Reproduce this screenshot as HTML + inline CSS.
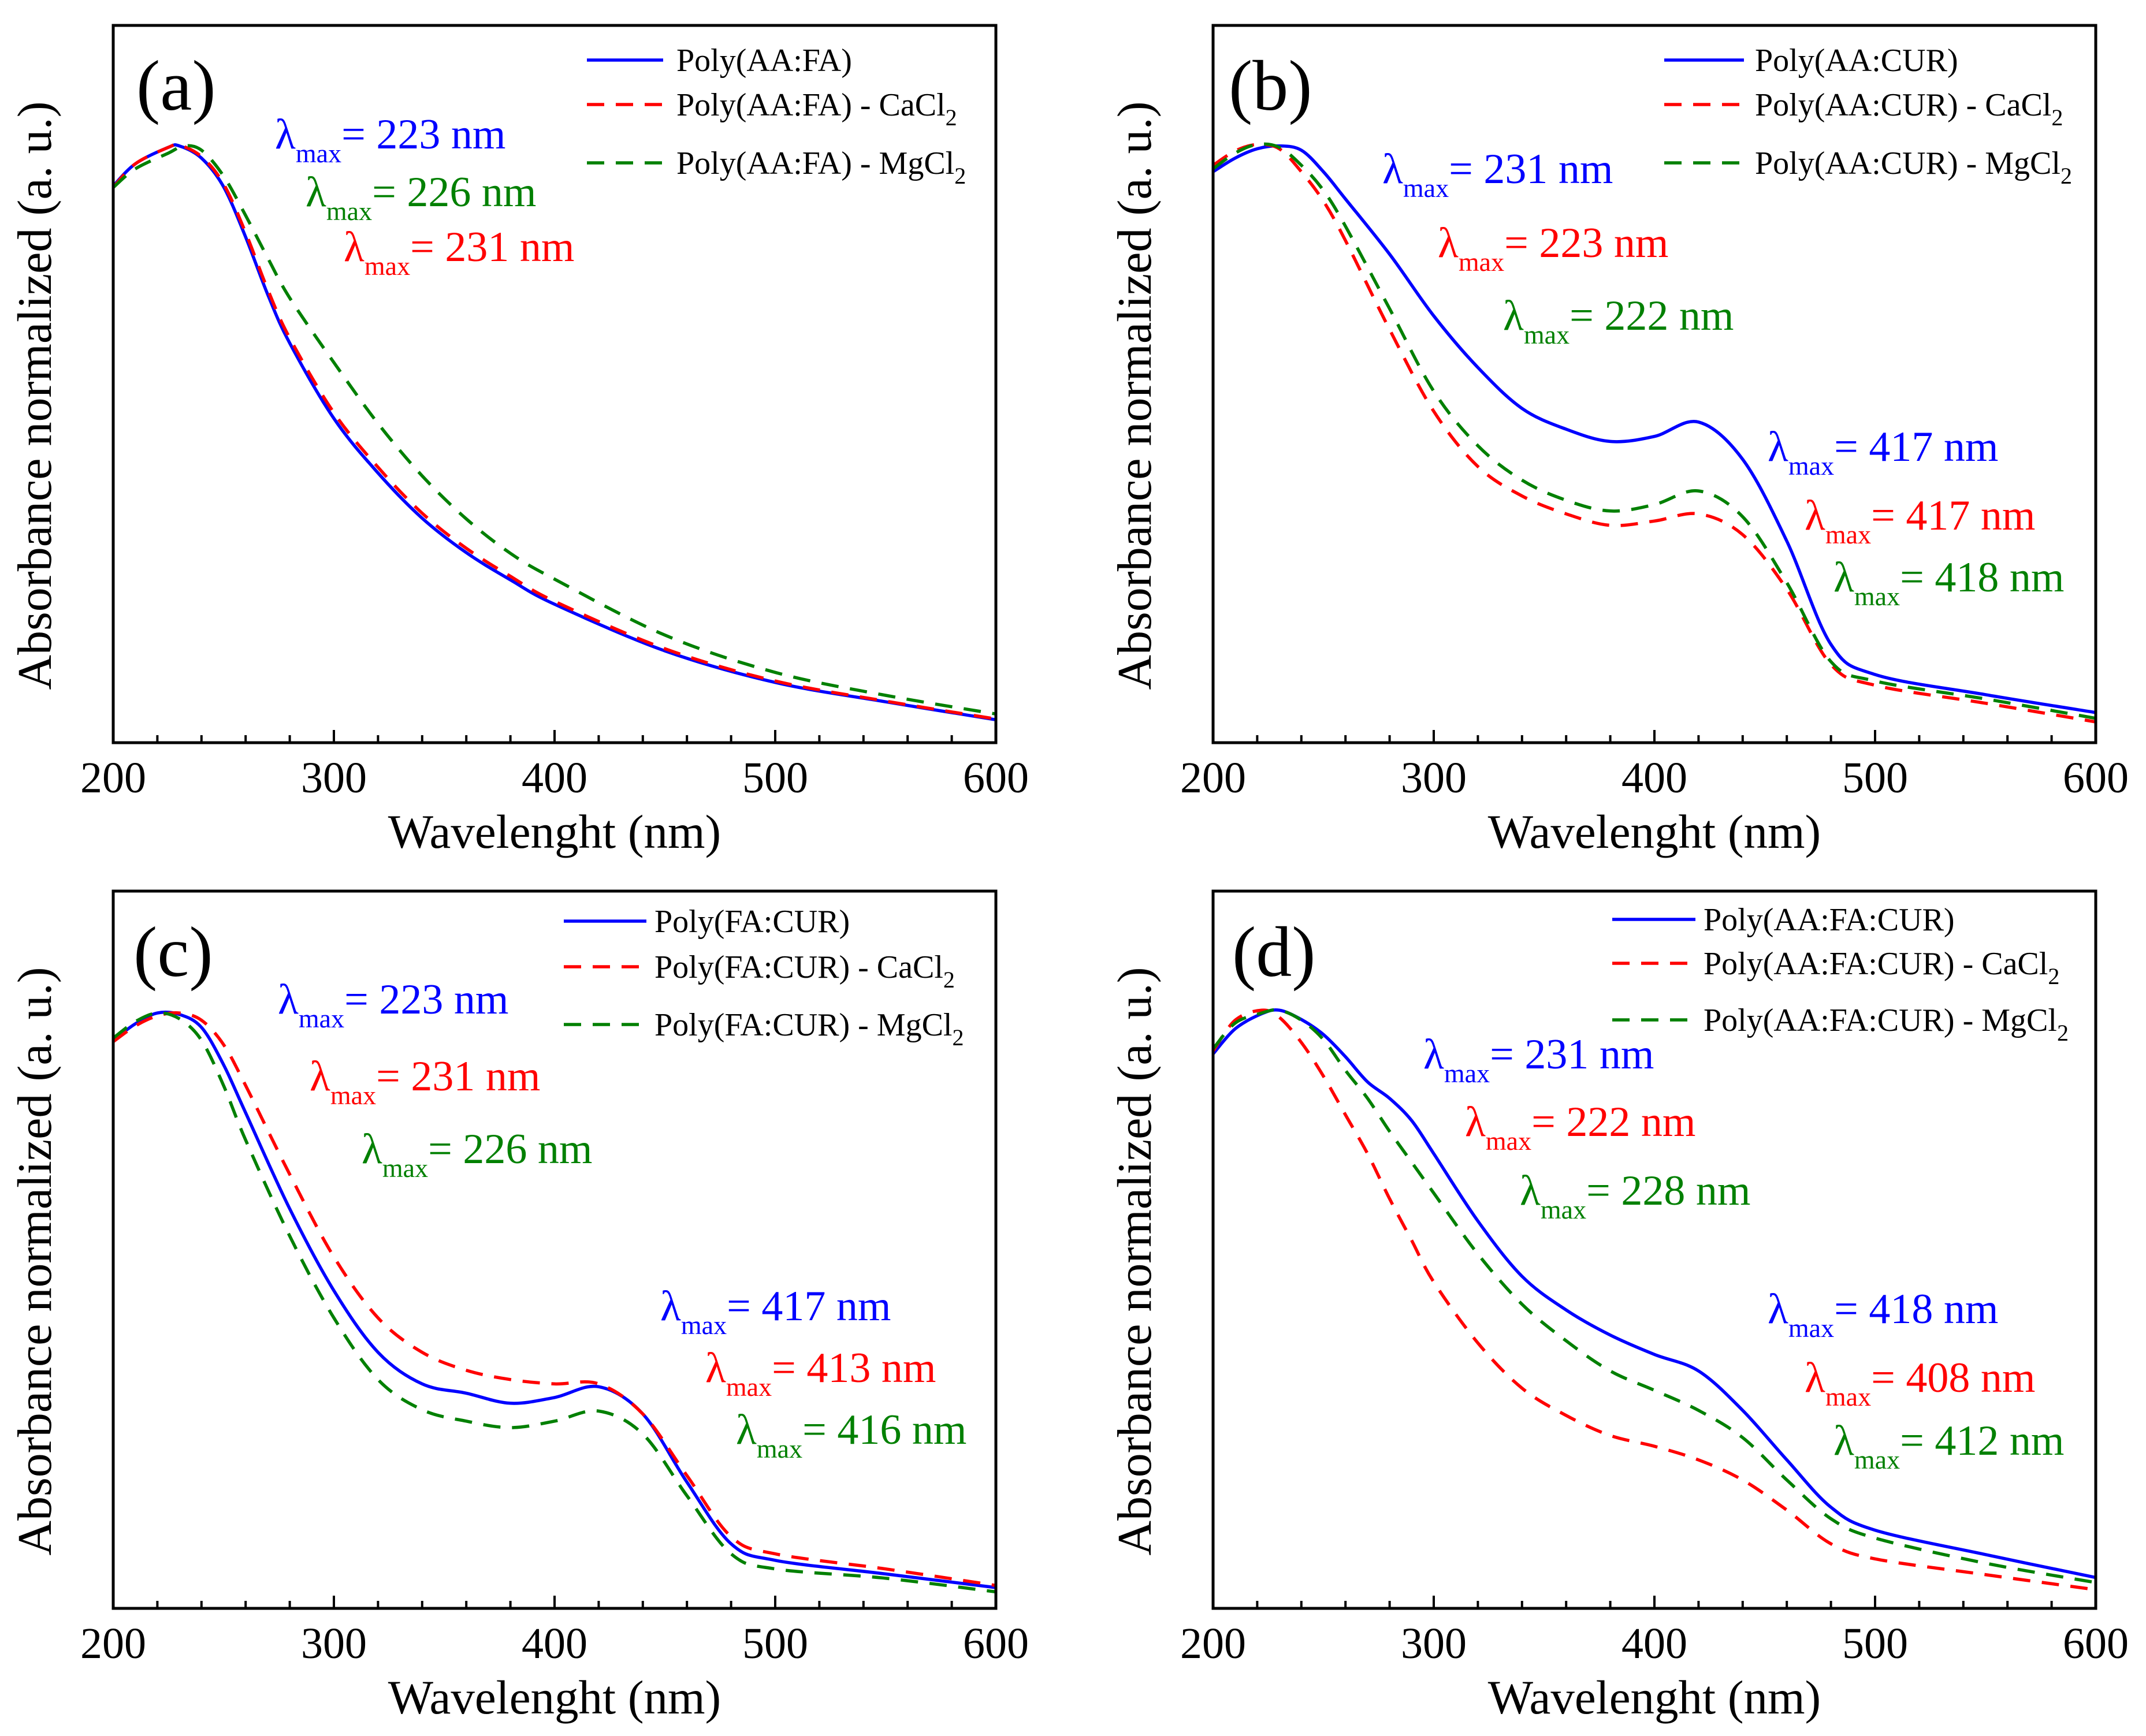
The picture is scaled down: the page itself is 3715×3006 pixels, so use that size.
<!DOCTYPE html>
<html>
<head>
<meta charset="utf-8">
<style>
  html,body{margin:0;padding:0;background:#fff;}
  svg{display:block;font-family:"Liberation Serif","DejaVu Serif",serif;}
</style>
</head>
<body>
<svg id="chart" xmlns="http://www.w3.org/2000/svg" width="3715" height="3006" viewBox="0 0 3715 3006">
<rect x="0" y="0" width="3715" height="3006" fill="#fff"/>
</svg>
<script>
// ---------- data (normalized absorbance, 0..1 of plot height) ----------
const xA = [200,210,225,230,240,250,260,270,280,300,320,340,360,380,400,450,500,550,600];
const aBlue  = [0.776,0.807,0.830,0.832,0.815,0.775,0.705,0.625,0.557,0.452,0.376,0.313,0.265,0.227,0.193,0.128,0.084,0.057,0.032];
const aRed   = [0.774,0.807,0.830,0.833,0.817,0.779,0.711,0.632,0.564,0.460,0.384,0.320,0.271,0.232,0.197,0.131,0.086,0.058,0.033];
const xAg = [200,210,225,232,240,250,260,270,280,300,320,340,360,380,400,450,500,550,600];
const aGreen = [0.774,0.800,0.822,0.832,0.826,0.790,0.735,0.676,0.620,0.530,0.445,0.372,0.312,0.264,0.228,0.150,0.098,0.066,0.040];

const xB = [200,210,220,230,240,250,260,280,300,320,340,360,380,400,420,440,460,480,500,550,600];
const bBlue  = [0.796,0.815,0.828,0.832,0.826,0.796,0.758,0.681,0.595,0.523,0.466,0.437,0.420,0.427,0.447,0.395,0.281,0.137,0.095,0.067,0.042];
const bRed   = [0.805,0.825,0.834,0.828,0.796,0.755,0.700,0.576,0.462,0.385,0.344,0.319,0.303,0.309,0.319,0.290,0.214,0.109,0.080,0.055,0.029];
const bGreen = [0.800,0.822,0.834,0.830,0.805,0.770,0.720,0.605,0.490,0.414,0.366,0.338,0.323,0.332,0.351,0.315,0.223,0.113,0.086,0.061,0.034];

const xC = [200,210,220,230,240,250,260,280,300,320,340,360,380,400,420,440,460,480,500,550,600];
const cBlue  = [0.792,0.815,0.830,0.828,0.810,0.758,0.691,0.557,0.443,0.357,0.313,0.300,0.286,0.294,0.309,0.271,0.176,0.090,0.067,0.048,0.029];
const cRed   = [0.790,0.812,0.826,0.830,0.820,0.786,0.729,0.605,0.490,0.405,0.357,0.332,0.319,0.313,0.313,0.271,0.185,0.100,0.076,0.055,0.032];
const cGreen = [0.795,0.818,0.830,0.822,0.792,0.729,0.653,0.519,0.405,0.319,0.277,0.261,0.252,0.261,0.275,0.243,0.157,0.076,0.055,0.042,0.023];

const xD = [200,210,222,230,240,250,260,270,280,290,300,320,340,360,380,400,420,440,460,480,500,550,600];
const dBlue  = [0.773,0.808,0.829,0.834,0.821,0.800,0.769,0.734,0.711,0.680,0.634,0.540,0.463,0.416,0.381,0.354,0.331,0.276,0.207,0.141,0.109,0.075,0.043];
const dRed   = [0.777,0.820,0.834,0.824,0.789,0.742,0.688,0.634,0.571,0.513,0.455,0.370,0.307,0.269,0.241,0.226,0.207,0.179,0.137,0.090,0.069,0.047,0.026];
const dGreen = [0.780,0.816,0.830,0.834,0.820,0.793,0.750,0.711,0.665,0.622,0.579,0.494,0.424,0.373,0.331,0.304,0.276,0.238,0.179,0.125,0.098,0.063,0.036];

const xTicks = [200,300,400,500,600];
const xTickLabels = ["200","300","400","500","600"];
const seriesColors = ["#0000ff","#ff0000","#008000"];

// ---------- layout ----------
const NS = "http://www.w3.org/2000/svg";
const svg = document.getElementById("chart");
function mk(tag, attrs, parent){
  const e = document.createElementNS(NS, tag);
  for (const k in attrs) e.setAttribute(k, attrs[k]);
  (parent||svg).appendChild(e);
  return e;
}
const W = 1528, H = 1242;
const panels = [
  {id:"a", L:196,  T:44,   label:"(a)", lx:236, ly:190,
   series:[[xA,aBlue],[xA,aRed],[xAg,aGreen]],
   legend:["Poly(AA:FA)","Poly(AA:FA) - CaCl","Poly(AA:FA) - MgCl"], legX1:1016, legX2:1148, legTx:1171, legY:[104,181,282],
   ann:[[0,476,257,"223"],[2,529,357,"226"],[1,595,452,"231"]]},
  {id:"b", L:2100, T:44,   label:"(b)", lx:2127, ly:190,
   series:[[xB,bBlue],[xB,bRed],[xB,bGreen]],
   legend:["Poly(AA:CUR)","Poly(AA:CUR) - CaCl","Poly(AA:CUR) - MgCl"], legX1:2881, legX2:3019, legTx:3038, legY:[104,181,282],
   ann:[[0,2393,317,"231"],[1,2489,445,"223"],[2,2602,571,"222"],[0,3060,798,"417"],[1,3124,917,"417"],[2,3174,1024,"418"]]},
  {id:"c", L:196,  T:1543, label:"(c)", lx:231, ly:1690,
   series:[[xC,cBlue],[xC,cRed],[xC,cGreen]],
   legend:["Poly(FA:CUR)","Poly(FA:CUR) - CaCl","Poly(FA:CUR) - MgCl"], legX1:976, legX2:1119, legTx:1133, legY:[1595,1674,1774],
   ann:[[0,481,1755,"223"],[1,536,1888,"231"],[2,626,2014,"226"],[0,1143,2286,"417"],[1,1221,2393,"413"],[2,1274,2500,"416"]]},
  {id:"d", L:2100, T:1543, label:"(d)", lx:2133, ly:1690,
   series:[[xD,dBlue],[xD,dRed],[xD,dGreen]],
   legend:["Poly(AA:FA:CUR)","Poly(AA:FA:CUR) - CaCl","Poly(AA:FA:CUR) - MgCl"], legX1:2791, legX2:2935, legTx:2949, legY:[1592,1668,1766],
   ann:[[0,2464,1850,"231"],[1,2536,1967,"222"],[2,2631,2086,"228"],[0,3060,2291,"418"],[1,3124,2410,"408"],[2,3174,2519,"412"]]}
];
const dashes = ["", "30 20", "30 20"];

function smoothPath(pts){
  let d = "M" + pts[0][0].toFixed(1) + "," + pts[0][1].toFixed(1);
  for (let i=0;i<pts.length-1;i++){
    const p0 = pts[Math.max(0,i-1)], p1 = pts[i], p2 = pts[i+1], p3 = pts[Math.min(pts.length-1,i+2)];
    const c1x = p1[0] + (p2[0]-p0[0])/6, c1y = p1[1] + (p2[1]-p0[1])/6;
    const c2x = p2[0] - (p3[0]-p1[0])/6, c2y = p2[1] - (p3[1]-p1[1])/6;
    d += " C" + c1x.toFixed(1)+","+c1y.toFixed(1)+" "+c2x.toFixed(1)+","+c2y.toFixed(1)+" "+p2[0].toFixed(1)+","+p2[1].toFixed(1);
  }
  return d;
}

panels.forEach(p => {
  const g = mk("g", {});
  
  
  const xs = v => p.L + (v-200)/400*W;
  const ys = v => p.T + H - v*H;

  p.series.forEach((s, si) => {
    const pts = s[0].map((xv,i)=>[xs(xv), ys(s[1][i])]);
    const path = mk("path", {d: smoothPath(pts), fill:"none", stroke: seriesColors[si], "stroke-width":5.5,
      "stroke-dasharray": dashes[si], "stroke-linejoin":"round"}, g);
    
    
  });

  const fr = mk("rect", {x:p.L, y:p.T, width:W, height:H, fill:"none", stroke:"#000", "stroke-width":5}, g);
  
  

  for (let v=220; v<600; v+=20){
    const major = v % 100 === 0;
    const t = mk("line", {x1:xs(v), x2:xs(v), y1:p.T+H, y2:p.T+H-(major?22:13), stroke:"#000", "stroke-width":4}, g);
    
    
  }
  xTicks.forEach((v,i)=>{
    const t = mk("text", {x:xs(v), y:p.T+H+86, "font-size":76, "text-anchor":"middle", fill:"#000"}, g);
    t.textContent = xTickLabels[i];
    
    
  });

  const xt = mk("text", {x:p.L+W/2, y:p.T+H+182, "font-size":83, "text-anchor":"middle", fill:"#000"}, g);
  xt.textContent = "Wavelenght (nm)";
  
  
  const yx = p.L - 108, yy = p.T + H/2 + 20;
  const yt = mk("text", {x:yx, y:yy, "font-size":84, "text-anchor":"middle", fill:"#000", transform:"rotate(-90 "+yx+" "+yy+")"}, g);
  yt.textContent = "Absorbance normalized (a. u.)";
  
  

  const pl = mk("text", {x:p.lx, y:p.ly, "font-size":124, fill:"#000"}, g);
  pl.textContent = p.label;
  
  

  p.legend.forEach((txt, i) => {
    const ln = mk("line", {x1:p.legX1, x2:p.legX2, y1:p.legY[i], y2:p.legY[i], stroke:seriesColors[i], "stroke-width":5.5, "stroke-dasharray":dashes[i]}, g);
    
    
    const t = mk("text", {x:p.legTx, y:p.legY[i]+19, "font-size":56, fill:"#000"}, g);
    
    
    t.appendChild(document.createTextNode(txt));
    if (i > 0){
      const s = mk("tspan", {dy:17, "font-size":40}, t);
      s.textContent = "2";
    }
  });

  p.ann.forEach(a => {
    const t = mk("text", {x:a[1], y:a[2], "font-size":74, fill:seriesColors[a[0]]}, g);
    
    
    t.appendChild(document.createTextNode("λ"));
    const s1 = mk("tspan", {dy:24, "font-size":46}, t);
    s1.textContent = "max";
    const s2 = mk("tspan", {dy:-24}, t);
    s2.textContent = "= " + a[3] + " nm";
  });
});
</script>
</body>
</html>
